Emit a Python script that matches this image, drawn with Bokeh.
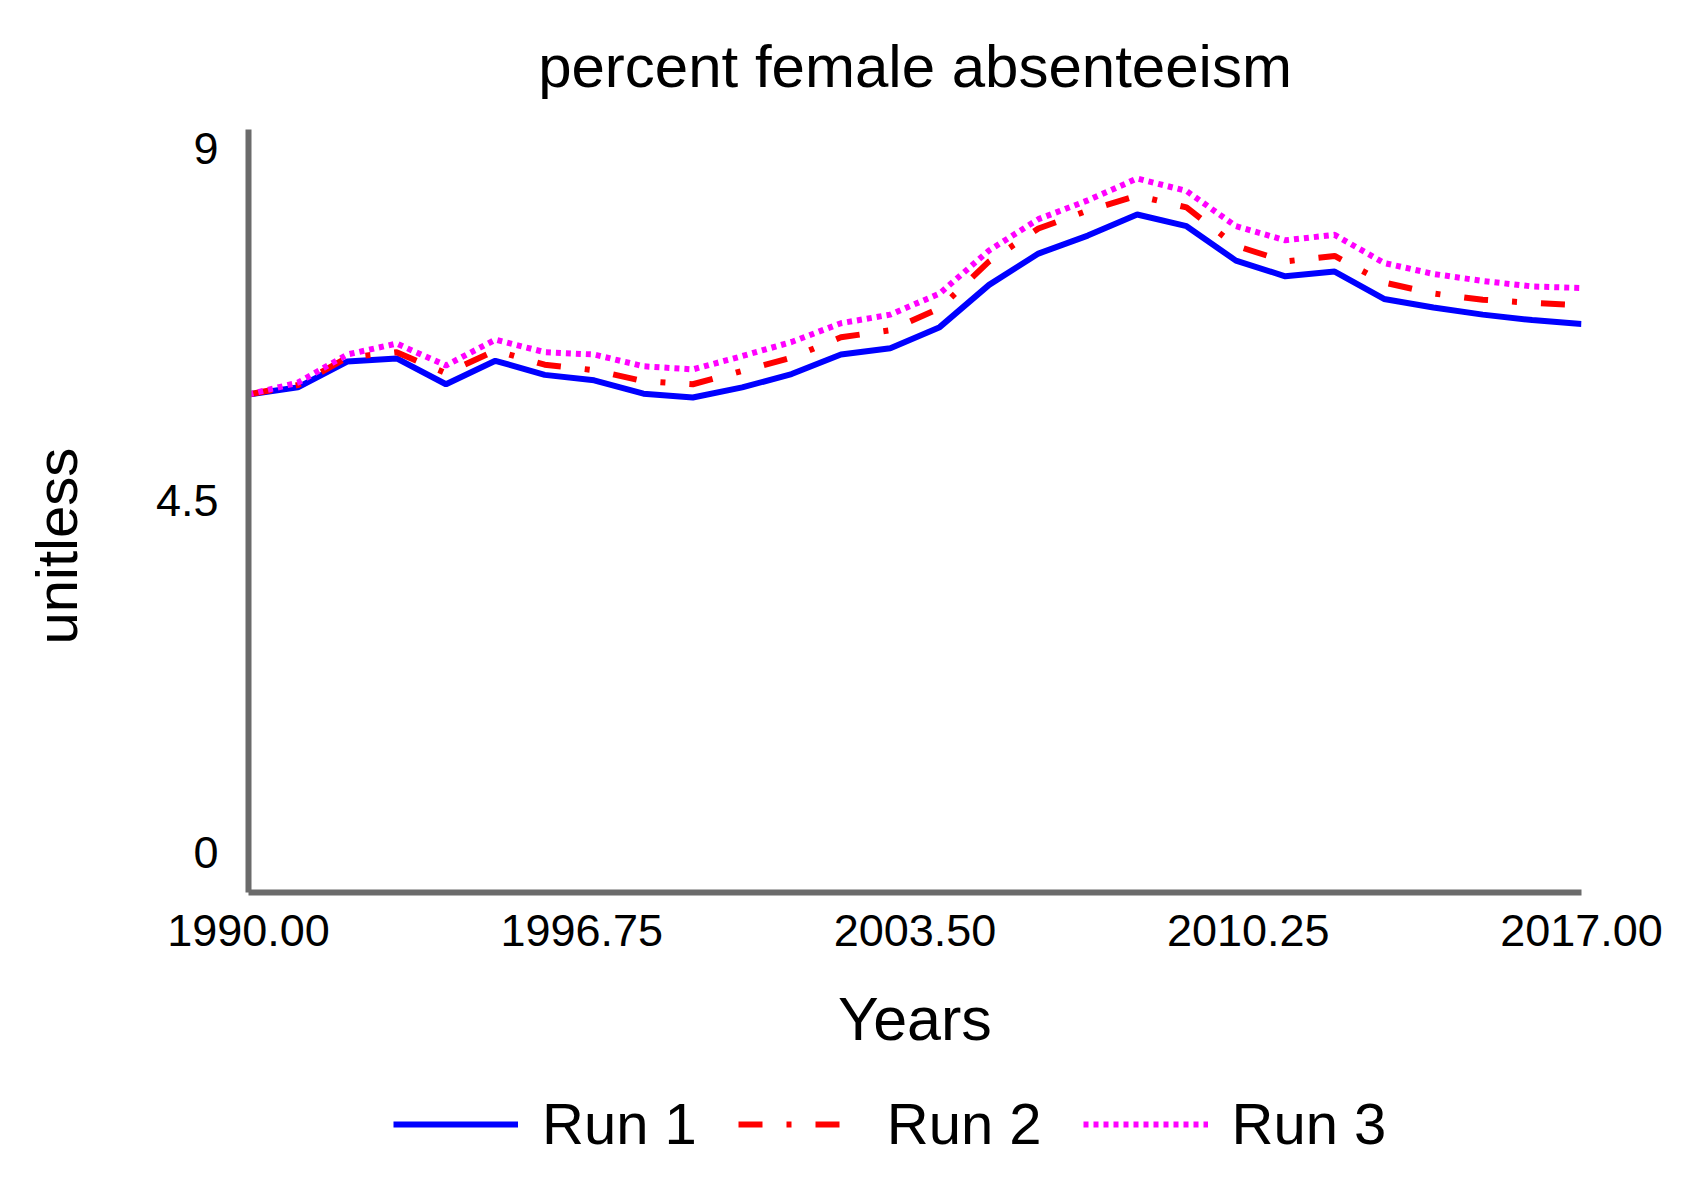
from bokeh.plotting import figure
from bokeh.models import Range1d, FixedTicker, Legend, LegendItem, Title
from bokeh.layouts import column
from bokeh.embed import file_html
from bokeh.resources import INLINE

years = list(range(1990, 2018))
run1 = [5.86, 5.95, 6.28, 6.32, 5.99, 6.29, 6.11, 6.04, 5.87, 5.82, 5.95, 6.12, 6.37, 6.45,
        6.72, 7.26, 7.66, 7.89, 8.16, 8.01, 7.57, 7.37, 7.43, 7.08, 6.97, 6.88, 6.81, 6.76]
run2 = [5.86, 5.98, 6.33, 6.40, 6.13, 6.42, 6.24, 6.17, 6.03, 5.99, 6.16, 6.33, 6.59, 6.68,
        6.96, 7.56, 7.98, 8.21, 8.40, 8.25, 7.76, 7.56, 7.63, 7.29, 7.15, 7.07, 7.03, 7.00]
run3 = [5.86, 6.01, 6.37, 6.51, 6.23, 6.56, 6.40, 6.37, 6.22, 6.18, 6.35, 6.53, 6.77, 6.88,
        7.15, 7.70, 8.10, 8.34, 8.62, 8.46, 8.01, 7.83, 7.90, 7.54, 7.40, 7.31, 7.24, 7.22]
series_names = ["Run 1", "Run 2", "Run 3"]
x_ticks = [1990, 1996.75, 2003.5, 2010.25, 2017]
x_tick_labels = ["1990.00", "1996.75", "2003.50", "2010.25", "2017.00"]
y_ticks = [0, 4.5, 9]
y_tick_labels = ["0", "4.5", "9"]

FONT = "Liberation Sans"
colors = ["#0000ff", "#ff0000", "#ff00ff"]
dashes = ["solid", "24 24 5 24", "5 5"]

p = figure(width=1669, height=1086, output_backend="svg", toolbar_location=None,
           x_range=Range1d(1990, 2017), y_range=Range1d(-0.506, 9.246),
           min_border_left=248, min_border_right=88, min_border_top=124, min_border_bottom=194,
           title="percent female absenteeism")
p.outline_line_color = None
p.grid.visible = False
p.background_fill_color = "white"

p.title.text_font = FONT
p.title.text_font_size = "60px"
p.title.text_font_style = "normal"
p.title.align = "center"
p.title.standoff = 60
p.title.text_color = "black"

for ax in (p.xaxis[0], p.yaxis[0]):
    ax.axis_line_color = "#6b6b6b"
    ax.axis_line_width = 6
    ax.major_tick_line_color = None
    ax.minor_tick_line_color = None
    ax.major_tick_out = 0
    ax.major_tick_in = 0
    ax.minor_tick_out = 0
    ax.major_label_text_font = FONT
    ax.major_label_text_font_size = "45px"
    ax.major_label_text_color = "black"

p.xaxis.ticker = FixedTicker(ticks=x_ticks)
p.xaxis.major_label_overrides = {t: l for t, l in zip(x_ticks, x_tick_labels)}
p.xaxis.major_label_standoff = 22
p.xaxis.axis_label = "Years"
p.xaxis.axis_label_text_font = FONT
p.xaxis.axis_label_text_font_size = "61px"
p.xaxis.axis_label_text_font_style = "normal"
p.xaxis.axis_label_text_color = "black"
p.xaxis.axis_label_standoff = 36

p.yaxis.ticker = FixedTicker(ticks=y_ticks)
p.yaxis.major_label_overrides = {t: l for t, l in zip(y_ticks, y_tick_labels)}
p.yaxis.major_label_standoff = 30

# spacer between y tick labels and the y title
p.add_layout(Title(text=" ", text_font_size="1px", standoff=61), "left")
ytitle = Title(text="unitless", align="left", text_font=FONT, text_font_size="58px",
               text_font_style="normal", text_color="black", standoff=0, offset=248)
p.add_layout(ytitle, "left")

for ys, c, d in zip([run1, run2, run3], colors, dashes):
    p.line(years, ys, line_color=c, line_width=6, line_dash=d)

# legend strip below the chart (its frame is aligned with the chart's frame)
pl = figure(width=1669, height=90, output_backend="svg", toolbar_location=None,
            x_range=Range1d(0, 1), y_range=Range1d(0, 1),
            min_border_left=0, min_border_right=0, min_border_top=0, min_border_bottom=0)
pl.axis.visible = False
pl.grid.visible = False
pl.outline_line_color = None
leg_renderers = [pl.line([-10, -9], [-10, -10], line_color=c, line_width=6, line_dash=d)
                 for c, d in zip(colors, dashes)]
legend = Legend(items=[LegendItem(label=n, renderers=[r]) for n, r in zip(series_names, leg_renderers)],
                orientation="horizontal", location=(145, 19),
                glyph_width=125, glyph_height=60, label_height=60, label_standoff=24, spacing=41,
                margin=0, padding=0, border_line_color=None, background_fill_alpha=0,
                label_text_font=FONT, label_text_font_size="58px", label_text_color="black")
pl.add_layout(legend, "center")

layout = column(p, pl, spacing=0)
open("out.html", "w").write(file_html(layout, INLINE))
